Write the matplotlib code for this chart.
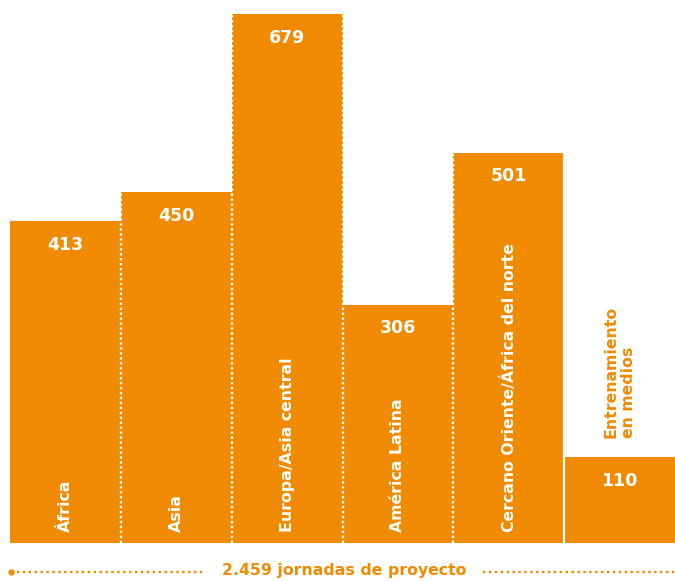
import matplotlib
matplotlib.use("Agg")
import matplotlib.pyplot as plt

categories = ["África", "Asia", "Europa/Asia central", "América Latina",
              "Cercano Oriente/África del norte", "Entrenamiento\nen medios"]
values = [413, 450, 679, 306, 501, 110]
total_label = "2.459 jornadas de proyecto"

ORANGE = "#F08A00"
W, H = 675, 581
plt.rcParams['font.family'] = ['DejaVu Sans']

fig = plt.figure(figsize=(W / 100, H / 100), dpi=100)
ax = fig.add_axes([10 / W, 38 / H, 665 / W, 529 / H])
ax.set_xlim(0, len(values))
ax.set_ylim(0, max(values))
ax.axis("off")

x = list(range(len(values)))
ax.bar(x, values, width=1.0, align="edge", color=ORANGE, linewidth=0, zorder=1)

# dotted separators
for i in range(1, len(values) - 1):
    ax.plot([i, i], [0, max(values[i - 1], values[i])], color="white", lw=1.7,
            linestyle=(0, (1, 1.1)), dash_capstyle="butt", zorder=2)
# solid gap before last bar
ax.plot([len(values) - 1] * 2, [0, max(values[-2], values[-1])], color="white",
        lw=1.6, zorder=2)

for i, (c, v) in enumerate(zip(categories, values)):
    ax.annotate(str(v), (i + 0.5, v), xytext=(0, -10.5), textcoords="offset points",
                ha="center", va="top", color="white", fontsize=12.5, fontweight="bold")
    if i < len(values) - 1:
        ax.annotate(c, (i + 0.5, 0), xytext=(0, 8), textcoords="offset points",
                    ha="center", va="bottom", rotation=90, color="white",
                    fontsize=11.3, fontweight="bold")
    else:
        ax.annotate(c, (i + 0.5, v), xytext=(0, 14), textcoords="offset points",
                    ha="center", va="bottom", rotation=90, color=ORANGE,
                    fontsize=11.3, fontweight="bold", multialignment="left",
                    linespacing=1.25)

# bottom total line
ov = fig.add_axes([0, 0, 1, 1], zorder=5)
ov.set_xlim(0, W)
ov.set_ylim(H, 0)
ov.axis("off")
ov.patch.set_alpha(0)
t = ov.text(344, 571, total_label, ha="center", va="center", color=ORANGE,
            fontsize=11.3, fontweight="bold")
fig.canvas.draw()
bb = t.get_window_extent().transformed(ov.transData.inverted())
x0, x1 = min(bb.x0, bb.x1), max(bb.x0, bb.x1)
ov.plot([11, x0 - 18], [572, 572], color=ORANGE, lw=1.7, linestyle=(0, (1, 1.5)),
        dash_capstyle="butt")
ov.plot([x1 + 17, W], [572, 572], color=ORANGE, lw=1.7, linestyle=(0, (1, 1.5)),
        dash_capstyle="butt")
ov.plot([11], [572], "o", color=ORANGE, ms=3.5)

fig.savefig("out.png", dpi=100)
